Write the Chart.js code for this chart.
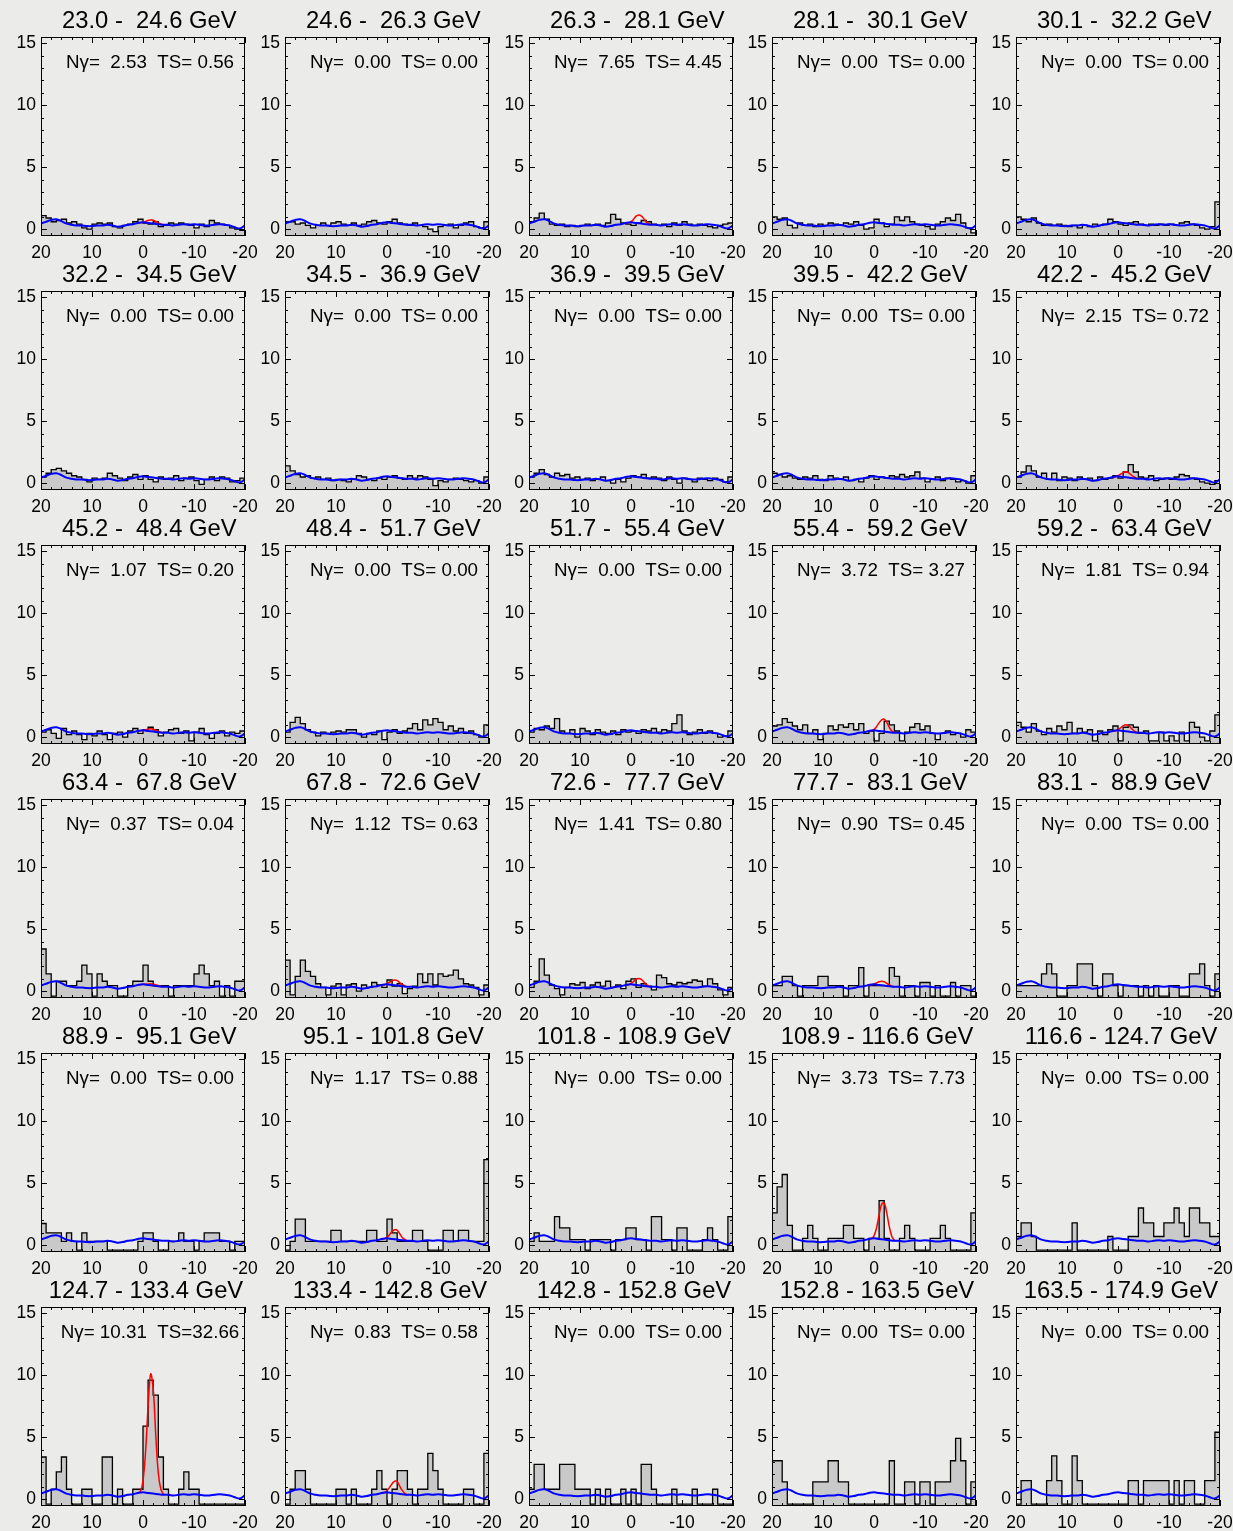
<!DOCTYPE html>
<html>
<head>
<meta charset="utf-8">
<script src="https://cdn.jsdelivr.net/npm/chart.js@4.4.1/dist/chart.umd.min.js"></script>
<style>
  body { margin: 0; background: #ebebe9; }
  #sheet { position: relative; width: 1233px; height: 1531px; overflow: hidden; }
  #sheet canvas { position: absolute; }
</style>
</head>
<body>
<div id="sheet"></div>
<script>
// energy bins of the 30 panels (GeV)
const eLow  = [23.0, 24.6, 26.3, 28.1, 30.1, 32.2, 34.5, 36.9, 39.5, 42.2,
               45.2, 48.4, 51.7, 55.4, 59.2, 63.4, 67.8, 72.6, 77.7, 83.1,
               88.9, 95.1, 101.8, 108.9, 116.6, 124.7, 133.4, 142.8, 152.8, 163.5];
const eHigh = [24.6, 26.3, 28.1, 30.1, 32.2, 34.5, 36.9, 39.5, 42.2, 45.2,
               48.4, 51.7, 55.4, 59.2, 63.4, 67.8, 72.6, 77.7, 83.1, 88.9,
               95.1, 101.8, 108.9, 116.6, 124.7, 133.4, 142.8, 152.8, 163.5, 174.9];
const nGamma  = [2.53, 0.00, 7.65, 0.00, 0.00, 0.00, 0.00, 0.00, 0.00, 2.15,
                 1.07, 0.00, 0.00, 3.72, 1.81, 0.37, 1.12, 1.41, 0.90, 0.00,
                 0.00, 1.17, 0.00, 3.73, 0.00, 10.31, 0.83, 0.00, 0.00, 0.00];
const tsValue = [0.56, 0.00, 4.45, 0.00, 0.00, 0.00, 0.00, 0.00, 0.00, 0.72,
                 0.20, 0.00, 0.00, 3.27, 0.94, 0.04, 0.63, 0.80, 0.45, 0.00,
                 0.00, 0.88, 0.00, 7.73, 0.00, 32.66, 0.58, 0.00, 0.00, 0.00];

// left edge of each 1-degree bin, x runs 20 -> -20
const binStart = [20, 19, 18, 17, 16, 15, 14, 13, 12, 11, 10, 9, 8, 7, 6, 5, 4, 3, 2, 1,
                  0, -1, -2, -3, -4, -5, -6, -7, -8, -9, -10, -11, -12, -13, -14, -15, -16, -17, -18, -19];

// histogram heights, one row per panel
const counts = [
  [1.1,0.9,0.6,0.7,0.8,0.5,0.6,0.4,0.1,0.0, 0.4,0.5,0.4,0.5,0.2,0.1,0.3,0.4,0.6,0.8, 0.5,0.4,0.6,0.2,0.3,0.5,0.4,0.5,0.4,0.3, 0.1,0.4,0.2,0.7,0.5,0.4,0.3,0.1,0.0,-0.1],
  [0.6,0.6,0.4,0.5,0.3,0.1,0.3,0.5,0.3,0.5, 0.6,0.4,0.3,0.5,0.3,0.4,0.6,0.7,0.5,0.4, 0.6,0.8,0.5,0.4,0.3,0.5,0.3,0.2,0.0,-0.2, 0.2,0.3,0.4,0.1,0.3,0.5,0.6,0.2,0.1,0.6],
  [0.6,0.9,1.3,0.8,0.4,0.3,0.4,0.2,0.3,0.2, 0.3,0.4,0.3,0.4,0.3,0.5,1.2,0.8,0.5,0.4, 0.3,0.5,0.7,0.6,0.4,0.3,0.4,0.2,0.5,0.3, 0.6,0.4,0.3,0.4,0.3,0.2,0.1,0.3,0.4,0.5],
  [1.0,0.8,0.9,0.3,0.1,0.5,0.3,0.4,0.2,0.4, 0.3,0.5,0.4,0.3,0.5,0.4,0.6,0.3,0.0,0.1, 0.8,0.5,0.2,0.4,1.0,0.7,1.0,0.6,0.4,0.3, 0.2,0.0,0.4,0.6,0.9,0.7,1.2,0.5,0.1,-0.3],
  [1.0,0.8,0.6,0.9,0.5,0.3,0.4,0.3,0.4,0.3, 0.2,0.3,0.1,0.3,0.2,0.4,0.3,0.4,0.8,0.6, 0.4,0.3,0.5,0.6,0.4,0.3,0.4,0.3,0.4,0.3, 0.4,0.3,0.5,0.6,0.4,0.3,0.1,0.0,0.2,2.2],
  [0.5,0.8,1.1,1.2,1.0,0.8,0.6,0.5,0.3,0.1, 0.4,0.3,0.4,0.8,0.6,0.4,0.2,0.5,0.7,0.3, 0.6,0.3,0.1,0.5,0.3,0.4,0.6,0.2,0.4,0.5, 0.2,-0.1,0.3,0.5,0.2,0.5,0.4,0.1,0.2,0.4],
  [1.4,1.0,0.7,0.5,0.6,0.4,0.5,0.3,0.4,0.2, 0.3,0.2,0.1,0.3,0.6,0.5,0.3,0.2,0.4,0.3, 0.5,0.6,0.4,0.3,0.6,0.4,0.6,0.5,0.3,-0.2, 0.2,0.1,0.3,0.4,0.3,0.2,0.1,0.2,0.0,0.5],
  [0.5,0.8,1.1,0.7,0.5,0.8,0.6,0.7,0.4,0.5, 0.3,0.4,0.2,0.3,0.5,0.2,0.0,0.3,0.1,0.4, 0.6,0.5,0.7,0.4,0.5,0.4,0.2,0.5,0.3,0.0, 0.4,0.3,0.1,0.4,0.3,0.2,0.4,0.3,0.1,0.5],
  [0.8,0.7,0.5,0.6,0.4,0.3,0.5,0.4,0.6,0.3, 0.2,0.6,0.4,0.3,0.5,0.2,0.3,0.1,0.4,0.6, 0.3,0.5,0.4,0.6,0.5,0.7,0.5,0.6,0.9,0.4, 0.1,0.3,0.5,0.2,0.4,0.3,0.1,0.2,0.0,0.6],
  [0.5,0.9,1.4,1.0,0.5,0.8,0.3,0.8,0.2,0.5, 0.4,0.2,0.5,0.3,0.4,0.2,0.5,0.3,0.4,0.6, 0.4,0.9,1.5,0.9,0.5,0.4,0.6,0.2,0.3,0.4, 0.3,0.5,0.7,0.6,0.4,0.3,0.1,0.0,-0.1,0.2],
  [0.4,0.6,0.3,-0.1,0.7,0.2,0.5,0.2,-0.2,0.3, 0.1,0.5,0.2,-0.2,0.3,0.4,0.0,0.5,0.7,0.3, 0.6,0.8,0.6,0.1,0.4,0.6,0.7,0.3,0.5,-0.3, 0.4,0.7,0.2,-0.1,0.3,0.5,0.1,0.4,0.3,0.5],
  [0.4,1.2,1.6,1.1,0.6,0.4,0.1,0.4,0.3,0.4, 0.5,0.4,0.6,0.6,0.3,0.0,0.3,0.2,0.5,-0.2, 0.4,0.6,0.3,0.5,0.7,1.1,0.6,1.4,1.0,1.5, 1.2,0.6,0.9,0.5,0.7,0.3,0.5,0.2,0.0,1.0],
  [0.4,0.7,0.6,0.9,0.7,1.5,0.5,0.3,0.6,0.0, 0.7,0.5,0.2,0.6,0.4,0.3,0.5,0.2,0.6,0.4, 0.5,0.3,0.6,0.5,0.7,0.4,0.6,0.5,1.1,1.8, 0.5,0.2,0.4,0.6,0.3,0.5,0.3,0.0,0.1,0.5],
  [0.9,1.0,1.5,1.2,0.9,0.6,1.0,0.3,0.6,-0.2, 0.3,0.9,0.6,1.0,0.8,1.1,0.6,1.1,0.3,0.5, -0.3,0.3,1.3,1.0,0.5,-0.3,0.4,0.8,1.1,0.6, 0.9,0.3,-0.2,0.3,0.5,0.2,0.3,0.0,0.6,0.4],
  [1.2,0.8,0.4,1.1,0.5,0.2,0.7,0.4,0.9,0.6, 1.2,0.3,0.7,0.4,0.6,-0.3,0.5,0.2,0.6,0.9, -0.3,0.8,1.0,0.8,0.3,0.5,-0.3,-0.3,0.4,-0.3, 0.1,-0.3,0.4,-0.3,1.2,0.8,0.0,-0.3,0.5,1.8],
  [3.4,1.4,-0.4,0.8,0.8,0.45,0.45,0.8,2.1,1.4, -0.4,1.4,0.8,0.45,0.45,-0.4,-0.4,0.45,0.8,0.8, 2.1,0.8,0.45,0.45,0.45,-0.4,0.45,0.45,0.45,0.45, 1.4,2.1,1.4,0.45,0.8,-0.4,0.45,-0.4,0.8,0.8],
  [2.5,-0.3,1.2,2.5,1.6,1.2,0.6,0.3,-0.3,0.4, 0.6,-0.3,0.5,0.6,0.0,0.5,0.3,0.7,0.5,0.3, 0.9,0.4,0.6,-0.2,0.2,0.4,1.4,0.7,1.4,0.5, 1.4,1.2,1.3,1.7,1.0,0.6,0.5,0.3,-0.3,0.5],
  [0.3,0.8,2.6,1.3,0.5,0.2,-0.3,0.3,0.6,0.5, 0.7,0.2,0.5,0.7,0.4,0.8,0.3,0.5,0.2,0.8, 1.0,0.3,0.6,0.4,0.1,1.3,1.1,0.6,0.5,0.7, 0.6,0.7,0.9,0.8,0.4,1.0,0.6,0.1,-0.3,0.3],
  [0.45,0.45,1.2,1.2,0.45,-0.4,0.45,0.45,0.45,1.2, 1.2,0.45,0.45,0.45,-0.4,0.45,0.45,1.9,-0.4,0.45, 0.45,0.45,0.45,1.9,1.2,-0.4,0.45,0.45,-0.4,0.7, 0.7,-0.4,0.45,-0.4,-0.4,0.7,-0.4,0.45,0.45,-0.4],
  [0.45,0.45,0.45,0.45,0.45,1.4,2.2,1.4,-0.4,-0.4, 0.45,0.45,2.2,2.2,2.2,0.45,-0.4,1.4,1.4,0.45, -0.4,0.45,0.45,0.45,-0.4,0.45,-0.4,0.45,-0.4,-0.4, 0.45,0.45,-0.4,-0.4,1.4,1.4,2.2,0.45,-0.4,1.4],
  [1.75,1.0,1.0,1.0,0.3,1.0,0.3,-0.4,1.0,0.3, 0.3,0.3,0.3,-0.4,-0.4,-0.4,-0.4,-0.4,-0.4,0.3, 1.0,1.0,0.3,-0.4,-0.4,0.3,0.3,1.0,0.3,0.3, -0.4,0.3,1.0,1.0,1.0,0.3,0.3,-0.4,0.3,0.3],
  [-0.4,0.3,2.1,2.1,0.3,0.3,0.3,0.3,0.3,1.2, 1.2,0.3,0.3,0.3,0.3,0.3,1.2,1.2,0.3,0.3, 2.1,1.0,0.3,0.3,0.3,1.2,1.2,0.3,-0.4,-0.4, -0.4,1.2,1.2,0.3,1.2,1.2,0.3,0.3,0.3,6.9],
  [0.3,1.0,0.3,0.3,0.3,2.3,1.4,1.4,0.45,0.45, 0.45,-0.4,0.45,0.45,0.45,0.45,-0.4,0.45,0.45,1.4, 1.4,0.45,0.45,-0.4,2.3,2.3,0.45,0.45,-0.4,1.4, 1.4,-0.4,-0.4,-0.4,0.45,1.4,0.45,-0.4,-0.4,2.3],
  [2.6,4.7,5.7,1.6,-0.4,-0.4,0.55,1.6,0.55,-0.4, -0.4,0.55,0.55,0.55,1.6,1.6,0.55,0.55,-0.4,0.55, 0.55,3.6,0.55,-0.4,-0.4,0.55,1.6,0.55,-0.4,-0.4, -0.4,0.55,0.55,1.6,0.55,-0.4,-0.4,-0.4,-0.4,2.6],
  [0.7,1.8,1.8,0.7,-0.4,-0.4,-0.4,-0.4,-0.4,-0.4, -0.4,1.8,-0.4,-0.4,-0.4,-0.4,-0.4,-0.4,0.7,-0.4, -0.4,-0.4,0.7,0.7,3.0,1.8,1.8,0.7,0.7,1.8, 1.8,3.0,1.8,0.7,3.0,3.0,1.8,1.8,0.7,0.7],
  [3.4,-0.4,0.8,2.2,3.4,0.8,-0.4,-0.4,0.8,0.8, -0.4,-0.4,3.4,3.4,-0.4,0.8,-0.4,-0.4,0.8,0.8, 5.9,9.6,8.4,3.4,0.8,-0.4,-0.4,0.8,2.2,0.8, 0.8,-0.4,-0.4,-0.4,-0.4,-0.4,-0.4,-0.4,-0.4,-0.4],
  [-0.4,0.8,2.3,2.3,0.8,-0.4,-0.4,-0.4,-0.4,-0.4, 0.8,0.8,-0.4,0.8,-0.4,-0.4,-0.4,0.8,2.3,0.8, -0.4,0.8,2.3,2.3,0.8,-0.4,0.8,0.8,3.7,2.3, 0.8,-0.4,-0.4,-0.4,-0.4,0.8,0.8,-0.4,-0.4,3.7],
  [0.8,2.8,2.8,0.8,0.8,0.8,2.8,2.8,2.8,0.8, 0.8,0.8,-0.4,0.8,-0.4,0.8,-0.4,-0.4,0.8,-0.4, 0.8,-0.4,2.8,2.8,0.8,-0.4,-0.4,-0.4,0.8,-0.4, -0.4,-0.4,0.8,-0.4,-0.4,-0.4,0.8,-0.4,-0.4,-0.4],
  [3.1,3.1,1.4,-0.4,-0.4,-0.4,-0.4,-0.4,1.4,1.4, 1.4,3.1,3.1,1.4,1.4,-0.4,-0.4,-0.4,-0.4,-0.4, -0.4,-0.4,-0.4,3.1,-0.4,-0.4,1.4,1.4,-0.4,1.4, 1.4,-0.4,1.4,1.4,1.4,3.1,4.9,3.1,-0.4,1.4],
  [-0.4,1.5,1.5,-0.4,-0.4,-0.4,1.5,3.5,1.5,-0.4, -0.4,3.5,1.5,-0.4,-0.4,-0.4,-0.4,-0.4,-0.4,-0.4, -0.4,-0.4,1.5,1.5,-0.4,1.5,1.5,1.5,1.5,1.5, -0.4,1.5,-0.4,1.5,1.5,-0.4,-0.4,1.5,1.5,5.4]
];

// background model (blue), same template in every panel
const modelX = [20, 19, 18, 17, 16, 15, 14, 13, 12, 11, 10, 9, 8, 7, 6, 5, 4, 3, 2, 1, 0,
                -1, -2, -3, -4, -5, -6, -7, -8, -9, -10, -11, -12, -13, -14, -15, -16, -17, -18, -19, -20];
const modelY = [0.45,0.6,0.75,0.8,0.65,0.45,0.35,0.3,0.3,0.25, 0.25,0.3,0.3,0.35,0.3,0.2,0.25,0.35,0.4,0.5,
                0.55,0.5,0.45,0.4,0.35,0.35,0.3,0.35,0.4,0.35, 0.4,0.35,0.3,0.3,0.35,0.4,0.35,0.3,0.15,0.05, 0.3];

// signal + background (red) near the centre
const peakX = [1, 0.5, 0, -0.5, -1, -1.5, -2, -2.5, -3, -3.5, -4];
const peakY = [
  [0.5,0.52,0.56,0.62,0.7,0.75,0.72,0.62,0.5,0.42,0.35], null,
  [0.5,0.52,0.6,0.8,1.05,1.15,1.08,0.85,0.6,0.44,0.35], null, null,
  null, null, null, null,
  [0.5,0.52,0.6,0.72,0.85,0.92,0.86,0.7,0.54,0.42,0.35],
  [0.5,0.52,0.56,0.6,0.65,0.68,0.64,0.56,0.48,0.4,0.35], null, null,
  [0.5,0.52,0.62,0.85,1.15,1.4,1.45,1.2,0.8,0.5,0.35],
  [0.5,0.52,0.6,0.75,0.92,1.0,0.95,0.76,0.56,0.42,0.35],
  [0.5,0.52,0.55,0.56,0.58,0.6,0.57,0.52,0.46,0.4,0.35],
  [0.5,0.52,0.6,0.72,0.85,0.9,0.85,0.7,0.54,0.42,0.35],
  [0.5,0.52,0.62,0.78,0.95,1.02,0.96,0.76,0.56,0.42,0.35],
  [0.5,0.52,0.58,0.66,0.76,0.8,0.76,0.64,0.5,0.41,0.35], null,
  null,
  [0.5,0.52,0.64,0.85,1.1,1.25,1.2,0.92,0.62,0.44,0.35], null,
  [0.5,0.52,0.75,1.4,2.45,3.3,3.4,2.6,1.5,0.7,0.38], null,
  [0.5,0.62,1.5,3.8,7.5,10.1,8.9,5.2,2.1,0.8,0.4],
  [0.5,0.52,0.68,0.95,1.25,1.45,1.4,1.05,0.7,0.45,0.35], null, null, null
];

const xTicks = [20, 10, 0, -10, -20];
const yTicks = [0, 5, 10, 15];

const FONT = '"Liberation Sans", Arial, sans-serif';
const f5 = (v, d) => v.toFixed(d).padStart(5, ' ');

// frame with inward ticks, title and the N/TS label
const panelDecor = {
  id: 'panelDecor',
  afterDatasetsDraw(chart, args, opts) {
    const { ctx, chartArea: a, scales: { x, y } } = chart;
    ctx.save();
    ctx.strokeStyle = '#000';
    ctx.lineWidth = 1;
    ctx.beginPath();
    for (let v = -20; v <= 20; v += 2) {
      const px = Math.round(x.getPixelForValue(v)) + 0.5;
      const len = v % 10 === 0 ? 6 : 3;
      ctx.moveTo(px, a.bottom); ctx.lineTo(px, a.bottom - len);
      ctx.moveTo(px, a.top); ctx.lineTo(px, a.top + len);
    }
    for (let v = 0; v <= 15; v += 1) {
      const py = Math.round(y.getPixelForValue(v)) + 0.5;
      const len = v % 5 === 0 ? 6 : 3;
      ctx.moveTo(a.left, py); ctx.lineTo(a.left + len, py);
      ctx.moveTo(a.right, py); ctx.lineTo(a.right - len, py);
    }
    ctx.stroke();
    ctx.strokeRect(a.left + 0.5, a.top + 0.5, a.right - a.left - 1, a.bottom - a.top - 1);
    ctx.restore();
  },
  afterDraw(chart, args, opts) {
    const { ctx, chartArea: a } = chart;
    const mid = (a.left + a.right) / 2;
    ctx.save();
    ctx.fillStyle = '#000';
    ctx.textAlign = 'center';
    ctx.textBaseline = 'alphabetic';
    ctx.font = `23.8px ${FONT}`;
    ctx.fillText(opts.title, mid + 3, 27.5);
    ctx.font = `18.8px ${FONT}`;
    ctx.fillText(opts.label, mid + 7, a.top + 31);
    ctx.restore();
  }
};

const sheet = document.getElementById('sheet');

const makePanel = function (i) {
  const col = i % 5;
  const row = Math.floor(i / 5);
  const canvas = document.createElement('canvas');
  canvas.width = 280;
  canvas.height = 262;
  canvas.style.left = Math.round(col * 243.75) + 'px';
  canvas.style.top = (row * 254) + 'px';
  sheet.appendChild(canvas);

  const hist = counts[i].map((v, k) => ({ x: binStart[k], y: v }));
  hist.push({ x: -20, y: counts[i][counts[i].length - 1] });

  const datasets = [{
    data: hist,
    stepped: true,
    borderColor: '#000',
    borderWidth: 1.3,
    backgroundColor: '#c9c9c9',
    fill: 'start',
    pointRadius: 0,
    order: 3
  }, {
    data: modelX.map((v, k) => ({ x: v, y: modelY[k] })),
    borderColor: '#0000ff',
    borderWidth: 2,
    tension: 0.4,
    fill: false,
    pointRadius: 0,
    order: 1
  }];
  if (peakY[i]) {
    datasets.push({
      data: peakX.map((v, k) => ({ x: v, y: peakY[i][k] })),
      borderColor: '#ff0000',
      borderWidth: 1.5,
      tension: 0.4,
      fill: false,
      pointRadius: 0,
      order: 2
    });
  }

  new Chart(canvas, {
    type: 'line',
    data: { datasets: datasets },
    plugins: [panelDecor],
    options: {
      responsive: false,
      animation: false,
      devicePixelRatio: 1,
      layout: { padding: { left: 0, top: 37, right: 35, bottom: 0 } },
      plugins: {
        legend: { display: false },
        tooltip: { enabled: false },
        panelDecor: {
          title: `${f5(eLow[i], 1)} - ${f5(eHigh[i], 1)} GeV`,
          label: `N\u03b3= ${f5(nGamma[i], 2)}  TS=${f5(tsValue[i], 2)}`
        }
      },
      scales: {
        x: {
          type: 'linear',
          reverse: true,
          min: -20,
          max: 20,
          afterFit: (s) => { s.height = 26; },
          afterBuildTicks: (s) => { s.ticks = xTicks.map(v => ({ value: v })); },
          grid: { display: false, drawTicks: false },
          border: { display: false },
          ticks: { color: '#000', padding: 7, maxRotation: 0, autoSkip: false, font: { family: FONT, size: 17.5 } }
        },
        y: {
          min: -0.55,
          max: 15.5,
          afterFit: (s) => { s.width = 41; },
          afterBuildTicks: (s) => { s.ticks = yTicks.map(v => ({ value: v })); },
          grid: { display: false, drawTicks: false },
          border: { display: false },
          ticks: { color: '#000', padding: 5, font: { family: FONT, size: 17.5 } }
        }
      }
    }
  });
};

for (let i = 0; i < 30; i++) makePanel(i);
</script>
</body>
</html>
